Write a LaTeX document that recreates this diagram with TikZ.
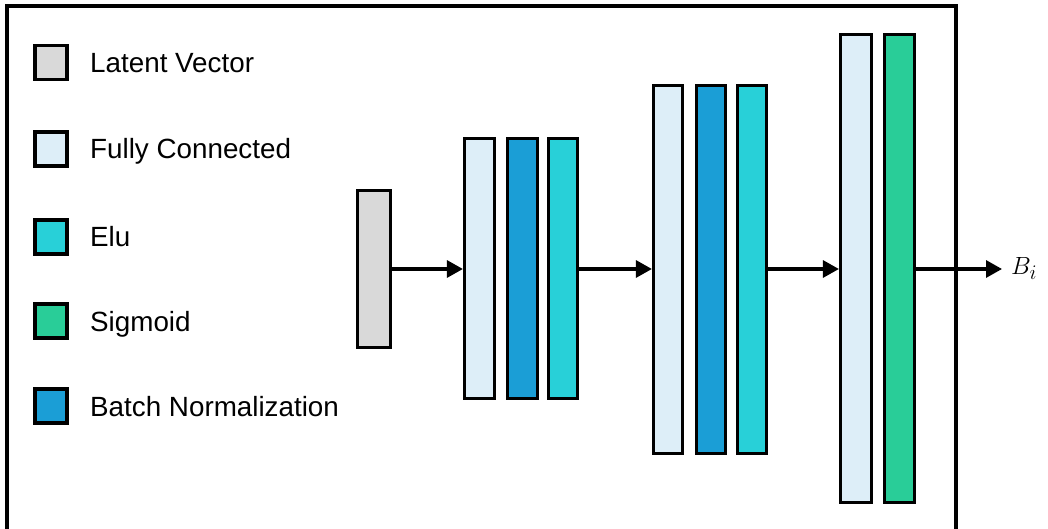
\documentclass[tikz,border=0pt]{standalone}
\usepackage{fontspec}
\setmainfont{Liberation Sans}
\usetikzlibrary{arrows.meta}

\definecolor{latentgray}{HTML}{D9D9D9}
\definecolor{fcblue}{HTML}{DDEEF8}
\definecolor{bnblue}{HTML}{1B9ED6}
\definecolor{eluteal}{HTML}{28D0D8}
\definecolor{sigmoidgreen}{HTML}{29CD98}

\tikzset{
  layerbox/.style={draw=black, line width=3.2pt, inner sep=0pt, rectangle},
  legendbox/.style={layerbox, minimum width=32pt, minimum height=34pt},
  legendtext/.style={anchor=base west, inner sep=0pt, font=\fontsize{27.8}{30}\selectfont},
  flow/.style={line width=3.2pt, -{Triangle[length=16pt,width=17pt]}},
}

\begin{document}
\begin{tikzpicture}[x=1pt, y=-1pt]
\useasboundingbox (0,0) rectangle (1048,529);

% outer frame, open at the bottom edge
\draw[line width=3.4pt] (7,540) -- (7,6) -- (956,6) -- (956,540);

% legend
\node[legendbox, fill=latentgray]   (kLat) at (51,62.5) {};
\node[legendbox, fill=fcblue]       (kFC)  at (51,149)  {};
\node[legendbox, fill=eluteal]      (kElu) at (51,237)  {};
\node[legendbox, fill=sigmoidgreen] (kSig) at (51,321)  {};
\node[legendbox, fill=bnblue]       (kBN)  at (51,406)  {};
\node[legendtext] (tLat) at (90,72.5)  {Latent Vector};
\node[legendtext] (tFC)  at (90,159)   {Fully Connected};
\node[legendtext] (tElu) at (90,247)   {Elu};
\node[legendtext] (tSig) at (90,331)   {Sigmoid};
\node[legendtext] (tBN)  at (90,416)   {Batch Normalization};

% latent vector
\node[layerbox, fill=latentgray, minimum width=33pt, minimum height=157pt] (lat) at (374,269) {};

% block 1
\node[layerbox, fill=fcblue,  minimum width=30pt, minimum height=260pt] (fc1)  at (479.5,268.5) {};
\node[layerbox, fill=bnblue,  minimum width=30pt, minimum height=260pt] (bn1)  at (522.5,268.5) {};
\node[layerbox, fill=eluteal, minimum width=29pt, minimum height=260pt] (elu1) at (563,268.5) {};

% block 2
\node[layerbox, fill=fcblue,  minimum width=29pt, minimum height=368pt] (fc2)  at (668,269.5) {};
\node[layerbox, fill=bnblue,  minimum width=29pt, minimum height=368pt] (bn2)  at (711,269.5) {};
\node[layerbox, fill=eluteal, minimum width=29pt, minimum height=368pt] (elu2) at (752,269.5) {};

% block 3
\node[layerbox, fill=fcblue,       minimum width=31pt, minimum height=468pt] (fc3)  at (856,268.5) {};
\node[layerbox, fill=sigmoidgreen, minimum width=30pt, minimum height=468pt] (sig3) at (899.5,268.5) {};

% output
\coordinate (outTip) at (1002,269);
\node[anchor=base west, inner sep=0pt, font=\fontsize{32}{34}\selectfont] (out) at (1011,274.5) {$B_i$};

% connections
\draw[flow] (lat.east) -- (fc1.west |- lat.east);
\draw[flow] (elu1.east |- lat.east) -- (fc2.west |- lat.east);
\draw[flow] (elu2.east |- lat.east) -- (fc3.west |- lat.east);
\draw[flow] (sig3.east |- lat.east) -- (outTip);
\end{tikzpicture}
\end{document}
